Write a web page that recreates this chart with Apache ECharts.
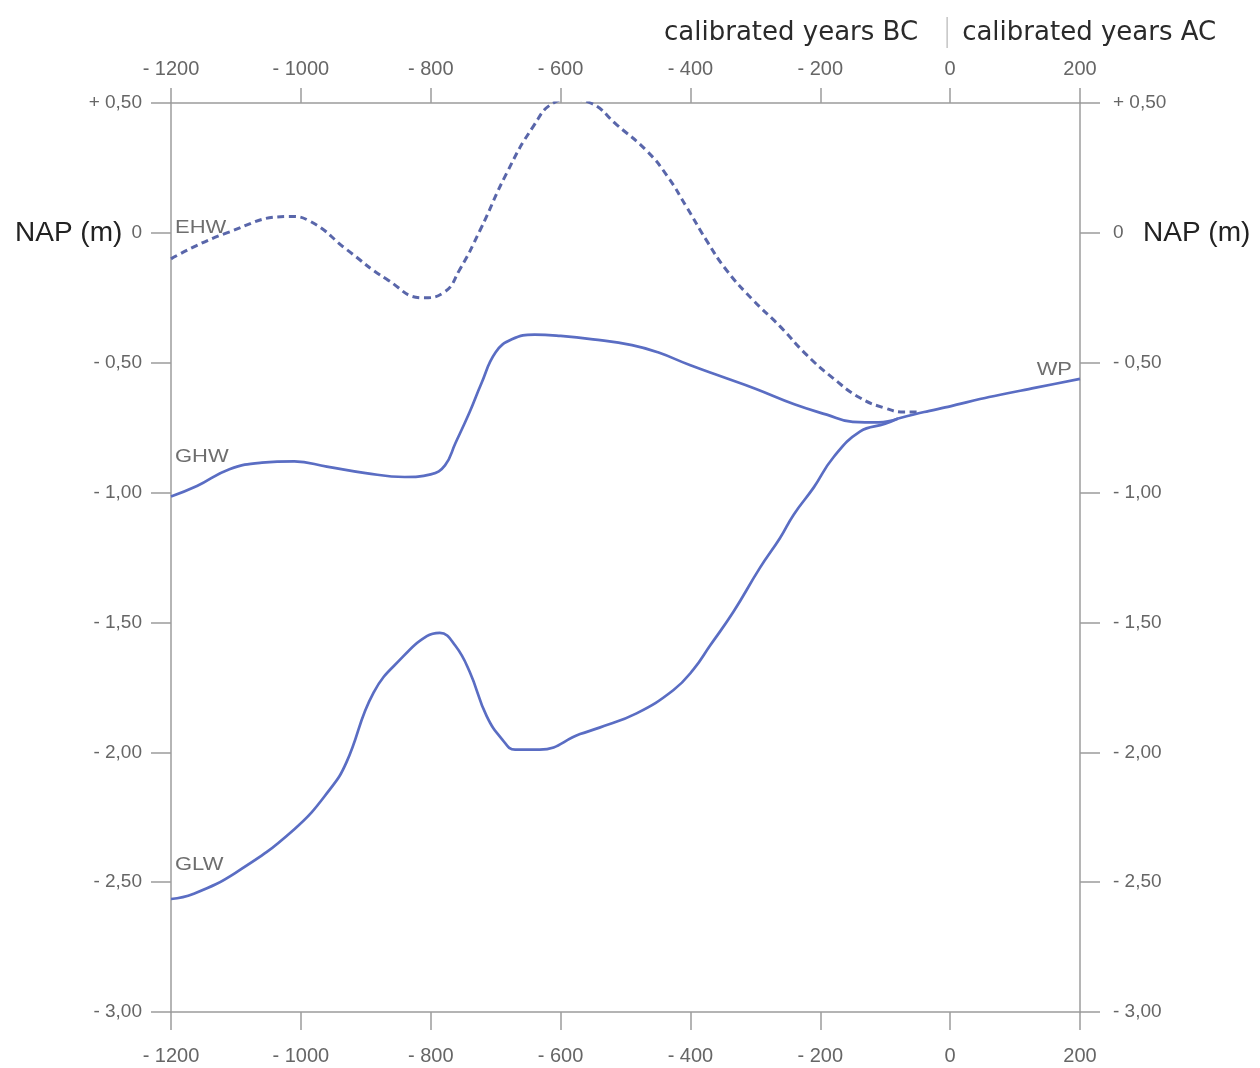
<!DOCTYPE html>
<html>
<head>
<meta charset="utf-8">
<script src="https://cdn.jsdelivr.net/npm/echarts@6/dist/echarts.min.js"></script>
<style>
  html, body { margin: 0; padding: 0; background: #ffffff; }
  #chart { width: 1260px; height: 1068px; }
</style>
</head>
<body>
<div id="chart"></div>
<script>
// Calibrated years (negative = BC) and water levels in metres relative to NAP
const ehwYears = [-1200, -1114, -1017, -986, -929, -867, -811, -780, -755, -724, -683, -642, -611, -585, -554, -513, -467, -436, -406, -375, -344, -303, -262, -221, -180, -139, -100, -70, -50];
const ehwNap   = [-0.10, 0.00, 0.063, 0.045, -0.065, -0.18, -0.25, -0.23, -0.14, 0.01, 0.23, 0.41, 0.50, 0.515, 0.50, 0.415, 0.315, 0.22, 0.10, -0.03, -0.145, -0.26, -0.36, -0.47, -0.56, -0.635, -0.675, -0.69, -0.69];

const ghwYears = [-1200, -1160, -1110, -1060, -1010, -960, -900, -840, -800, -778, -762, -740, -722, -700, -675, -640, -600, -550, -490, -450, -400, -350, -300, -240, -190, -150, -110, -80];
const ghwNap   = [-1.015, -0.975, -0.91, -0.885, -0.88, -0.90, -0.925, -0.94, -0.93, -0.895, -0.81, -0.69, -0.58, -0.46, -0.41, -0.392, -0.397, -0.41, -0.432, -0.46, -0.51, -0.555, -0.60, -0.66, -0.70, -0.728, -0.73, -0.715];

const glwYears = [-1200, -1166, -1100, -1010, -955, -930, -888, -842, -806, -786, -762, -740, -714, -690, -670, -632, -570, -540, -483, -426, -395, -370, -334, -293, -262, -241, -210, -180, -139, -100, -80];
const glwNap   = [-2.565, -2.546, -2.463, -2.296, -2.142, -2.04, -1.77, -1.63, -1.553, -1.54, -1.59, -1.69, -1.86, -1.95, -1.99, -1.99, -1.93, -1.905, -1.85, -1.76, -1.68, -1.59, -1.46, -1.29, -1.175, -1.085, -0.98, -0.865, -0.765, -0.735, -0.715];

const wpYears = [-80, -40, 0, 60, 130, 200];
const wpNap   = [-0.715, -0.69, -0.668, -0.632, -0.597, -0.562];

const curveNames = ['EHW', 'GHW', 'GLW', 'WP'];
const bcTitle = 'calibrated years BC';
const acTitle = 'calibrated years AC';
const yTitle = 'NAP (m)';

const zip = (xs, ys) => xs.map((x, i) => [x, ys[i]]);

const axisGrey = '#9c9c9c';
const labelGrey = '#666666';
const lineBlue = '#5a6dc3';
const dashBlue = '#5966aa';

function yearLabel(v) {
  return v < 0 ? '- ' + Math.abs(v) : String(v);
}
function napLabel(v) {
  if (Math.abs(v) < 1e-9) return '0';
  const s = Math.abs(v).toFixed(2).replace('.', ',');
  return (v > 0 ? '+ ' : '- ') + s;
}

function xAxisDef(pos, tickLen, margin) {
  return {
    type: 'value', position: pos, min: -1200, max: 200, interval: 200,
    axisLine: { show: true, onZero: false, lineStyle: { color: axisGrey, width: 1.5 } },
    axisTick: { show: true, inside: false, length: tickLen, lineStyle: { color: axisGrey, width: 1.5 } },
    splitLine: { show: false },
    axisLabel: { formatter: yearLabel, margin: margin, color: labelGrey, fontSize: 20, fontFamily: 'Liberation Sans' }
  };
}
function yAxisDef(pos, margin) {
  return {
    type: 'value', position: pos, min: -3, max: 0.5, interval: 0.5,
    axisLine: { show: true, onZero: false, lineStyle: { color: axisGrey, width: 1.5 } },
    axisTick: { show: true, inside: false, length: 20, lineStyle: { color: axisGrey, width: 1.5 } },
    splitLine: { show: false },
    axisLabel: { formatter: napLabel, margin: margin, color: labelGrey, fontSize: 19, fontFamily: 'Liberation Sans' }
  };
}

const chart = echarts.init(document.getElementById('chart'), null, { renderer: 'canvas' });

chart.setOption({
  backgroundColor: '#ffffff',
  animation: false,
  grid: { left: 171, right: 180, top: 103, bottom: 56, containLabel: false },
  xAxis: [xAxisDef('bottom', 18, 34), xAxisDef('top', 15, 24)],
  yAxis: [yAxisDef('left', 29), yAxisDef('right', 33)],
  series: [
    { name: 'EHW', type: 'line', data: zip(ehwYears, ehwNap), smooth: 0.5, showSymbol: false, clip: true,
      lineStyle: { color: dashBlue, width: 3, type: [7, 4.5] }, z: 3 },
    { name: 'GHW', type: 'line', data: zip(ghwYears, ghwNap), smooth: 0.45, showSymbol: false,
      lineStyle: { color: lineBlue, width: 2.7 }, z: 4 },
    { name: 'GLW', type: 'line', data: zip(glwYears, glwNap), smooth: 0.45, showSymbol: false,
      lineStyle: { color: lineBlue, width: 2.7 }, z: 4 },
    { name: 'WP', type: 'line', data: zip(wpYears, wpNap), smooth: 0.3, showSymbol: false,
      lineStyle: { color: lineBlue, width: 2.7 }, z: 5 }
  ]
});

// Text annotations anchored to the data coordinates
const px = (x, y) => chart.convertToPixel({ xAxisIndex: 0, yAxisIndex: 0 }, [x, y]);
const zeroTop = px(0, 0.5);
const leftZero = px(-1200, 0);
const rightZero = px(200, 0);

const curveAnchors = [[-1200, 0.02], [-1200, -0.865], [-1200, -2.435], [200, -0.527]];
const curveText = curveNames.map((name, i) => {
  const p = px(curveAnchors[i][0], curveAnchors[i][1]);
  const isRight = i === 3;
  return {
    type: 'text', x: isRight ? p[0] - 8 : p[0] + 4, y: p[1], scaleX: 1.22,
    style: { text: name, fill: '#6e6e6e', fontSize: 18, fontFamily: 'Liberation Sans',
             align: isRight ? 'right' : 'left', verticalAlign: 'middle' }
  };
});

chart.setOption({
  graphic: [
    { type: 'text', x: zeroTop[0] - 32, y: 33,
      style: { text: bcTitle, fill: '#2a2a2a', fontSize: 26, fontFamily: 'DejaVu Sans', align: 'right', verticalAlign: 'middle' } },
    { type: 'text', x: zeroTop[0] + 12, y: 33,
      style: { text: acTitle, fill: '#2a2a2a', fontSize: 26, fontFamily: 'DejaVu Sans', align: 'left', verticalAlign: 'middle' } },
    { type: 'line', shape: { x1: zeroTop[0] - 3, y1: 17, x2: zeroTop[0] - 3, y2: 48 },
      style: { stroke: '#c4c4c4', lineWidth: 1.5 } },
    { type: 'text', x: 15, y: leftZero[1],
      style: { text: yTitle, fill: '#222222', fontSize: 28, fontFamily: 'Liberation Sans', align: 'left', verticalAlign: 'middle' } },
    { type: 'text', x: rightZero[0] + 63, y: rightZero[1],
      style: { text: yTitle, fill: '#222222', fontSize: 28, fontFamily: 'Liberation Sans', align: 'left', verticalAlign: 'middle' } }
  ].concat(curveText)
});
</script>
</body>
</html>
